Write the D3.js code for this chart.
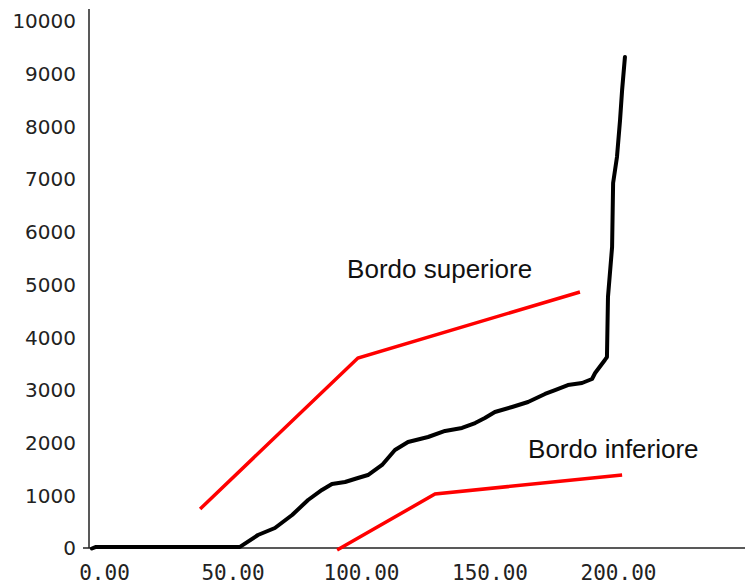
<!DOCTYPE html>
<html><head><meta charset="utf-8">
<script src="https://cdn.jsdelivr.net/npm/d3@7"></script>
<style>
html,body{margin:0;padding:0;background:#fff;}
svg{display:block;}
</style></head>
<body>
<svg id="chart" width="745" height="585"></svg>
<script>
// ---- data ----
const xTicks = [0, 50, 100, 150, 200];
const yTicks = [0, 1000, 2000, 3000, 4000, 5000, 6000, 7000, 8000, 9000, 10000];

const curveX = [-4.7,-3.1,52.9,59.9,66.5,73.2,79.4,84.8,88.7,93.8,98.8,102.7,108.2,113.2,118.3,126.1,132.7,139.3,144.4,148.2,152.1,158.8,165.0,171.6,175.5,180.5,186.0,189.9,191.1,194.9,195.7,196.1,197.7,198.1,199.6,200.8,201.6,202.7];
const curveY = [0,30,30,256,389,635,920,1110,1223,1261,1337,1394,1584,1868,2020,2115,2229,2286,2380,2475,2589,2684,2779,2931,3006,3101,3139,3215,3329,3576,3632,4770,5719,6933,7426,8128,8697,9323];

const upperX = [37.4, 98.8, 185.2];
const upperY = [750, 3613, 4866];
const lowerX = [90.7, 128.8, 201.6];
const lowerY = [-30, 1034, 1394];

const labels = ["Bordo superiore", "Bordo inferiore"];
const labelX = [94.6, 165.0];
const labelY = [5131, 1717];

// ---- layout ----
const svg = d3.select("#chart");
const x = d3.scaleLinear().domain([0, 200]).range([104, 618]);
const y = d3.scaleLinear().domain([0, 10000]).range([548.5, 21.3]);
const axisX = 89, axisY = 548;

// axes lines
svg.append("line").attr("x1", axisX).attr("x2", axisX).attr("y1", 9).attr("y2", axisY)
  .attr("stroke", "#222").attr("stroke-width", 1.5);
svg.append("line").attr("x1", 83).attr("x2", 745).attr("y1", axisY).attr("y2", axisY)
  .attr("stroke", "#222").attr("stroke-width", 1.5);

// y axis labels
const gy = svg.append("g").attr("transform", `translate(${axisX},0)`)
  .call(d3.axisLeft(y).tickValues(yTicks).tickSize(0).tickPadding(13).tickFormat(d3.format("d")));
gy.select(".domain").remove();
gy.selectAll("text").attr("font-family", "DejaVu Sans").attr("font-size", 20).attr("fill", "#222");

// x axis labels
const gx = svg.append("g").attr("transform", `translate(0,${axisY})`)
  .call(d3.axisBottom(x).tickValues(xTicks).tickSize(0).tickPadding(17).tickFormat(d3.format(".2f")));
gx.select(".domain").remove();
gx.selectAll("text").attr("font-family", "DejaVu Sans Mono").attr("font-size", 21).attr("fill", "#222");

const line = d3.line().x(d => x(d[0])).y(d => y(d[1]));

// red borders
svg.append("path").datum(upperX.map((v, i) => [v, upperY[i]]))
  .attr("d", line).attr("fill", "none").attr("stroke", "#ff0000").attr("stroke-width", 3.5);
svg.append("path").datum(lowerX.map((v, i) => [v, lowerY[i]]))
  .attr("d", line).attr("fill", "none").attr("stroke", "#ff0000").attr("stroke-width", 3.5);

// black curve
svg.append("path").datum(curveX.map((v, i) => [v, curveY[i]]))
  .attr("d", line).attr("fill", "none").attr("stroke", "#000").attr("stroke-width", 4)
  .attr("stroke-linejoin", "round").attr("stroke-linecap", "round");

// annotations
labels.forEach((t, i) => {
  svg.append("text").attr("x", x(labelX[i])).attr("y", y(labelY[i]))
    .attr("font-family", "Liberation Sans, Arial, sans-serif").attr("font-size", 26)
    .attr("fill", "#111").text(t);
});
</script>
</body></html>
